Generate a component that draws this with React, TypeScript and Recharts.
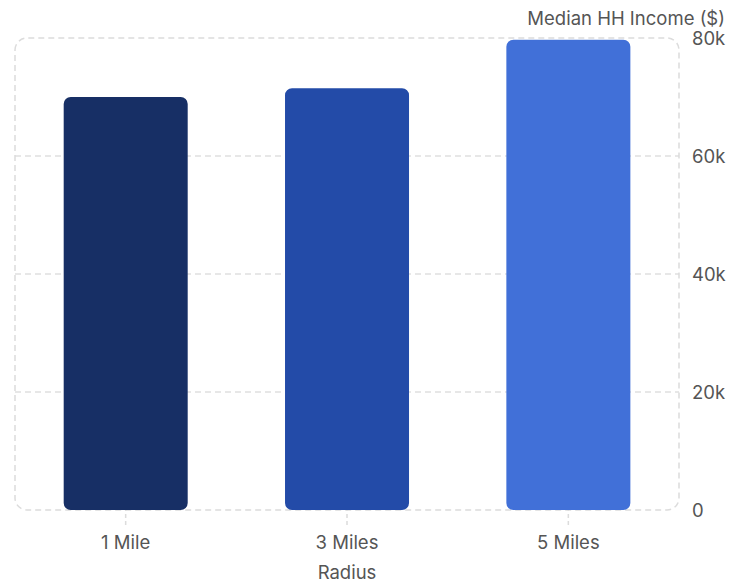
import React from 'react';
import { BarChart, Bar, XAxis, YAxis, CartesianGrid, ReferenceArea, Rectangle } from 'recharts';

const radii = ['1 Mile', '3 Miles', '5 Miles'];
const incomes = [70000, 71500, 79700];
const barColors = ['#172f65', '#234ba8', '#4170d8'];
const yTicks = [0, 20000, 40000, 60000, 80000];

const chartData = radii.map((r, i) => ({ radius: r, income: incomes[i], color: barColors[i] }));

const FONT = 'Inter, sans-serif';
const TEXT = '#555';
const FS = 18.5;

const YLabel = (props: any) => {
  const { viewBox } = props;
  return (
    <text
      x={viewBox.x + viewBox.width - 8}
      y={viewBox.y - 13}
      textAnchor="end"
      fill={TEXT}
      fontSize={FS}
      fontFamily={FONT}
    >
      Median HH Income ($)
    </text>
  );
};

// rounded on all four corners
const RoundBar = (props: any) => (
  <Rectangle
    x={props.x}
    y={props.y}
    width={props.width}
    height={props.height}
    fill={props.payload?.color ?? props.fill}
    radius={[7, 7, 7, 7]}
  />
);

export default function App() {
  return (
    <div style={{ width: 725, height: 574, fontFamily: FONT }}>
      <BarChart
        width={725}
        height={574}
        data={chartData}
        margin={{ top: 30, right: 0, left: 7, bottom: 0 }}
        barCategoryGap="22%"
        style={{ overflow: 'visible' }}
      >
        <ReferenceArea
          y1={0}
          y2={80000}
          yAxisId="r"
          fill="none"
          stroke="#dcdcdc"
          strokeWidth={1.5}
          strokeDasharray="6 4"
          radius={12}
          ifOverflow="visible"
        />
        <CartesianGrid
          vertical={false}
          horizontalValues={[20000, 40000, 60000]}
          stroke="#e0e0e0"
          strokeWidth={1.5}
          strokeDasharray="6 4"
          yAxisId="r"
        />
        <XAxis
          dataKey="radius"
          axisLine={false}
          tickLine={{ stroke: '#dcdcdc', strokeDasharray: '4 3', strokeWidth: 1.5 }}
          tickSize={15}
          tickMargin={11}
          height={72}
          tick={{ fill: TEXT, fontSize: FS, fontFamily: FONT }}
          label={{ value: 'Radius', position: 'insideBottom', offset: 3, fill: TEXT, fontSize: FS, fontFamily: FONT }}
        />
        <YAxis
          yAxisId="r"
          orientation="right"
          width={54}
          domain={[0, 80000]}
          ticks={yTicks}
          axisLine={false}
          tickLine={false}
          tickSize={0}
          tickMargin={13}
          tickFormatter={(v: number) => (v === 0 ? '0' : `${v / 1000}k`)}
          tick={{ fill: TEXT, fontSize: FS, fontFamily: FONT }}
          label={<YLabel />}
        />
        <Bar dataKey="income" yAxisId="r" shape={RoundBar} isAnimationActive={false} />
      </BarChart>
    </div>
  );
}
